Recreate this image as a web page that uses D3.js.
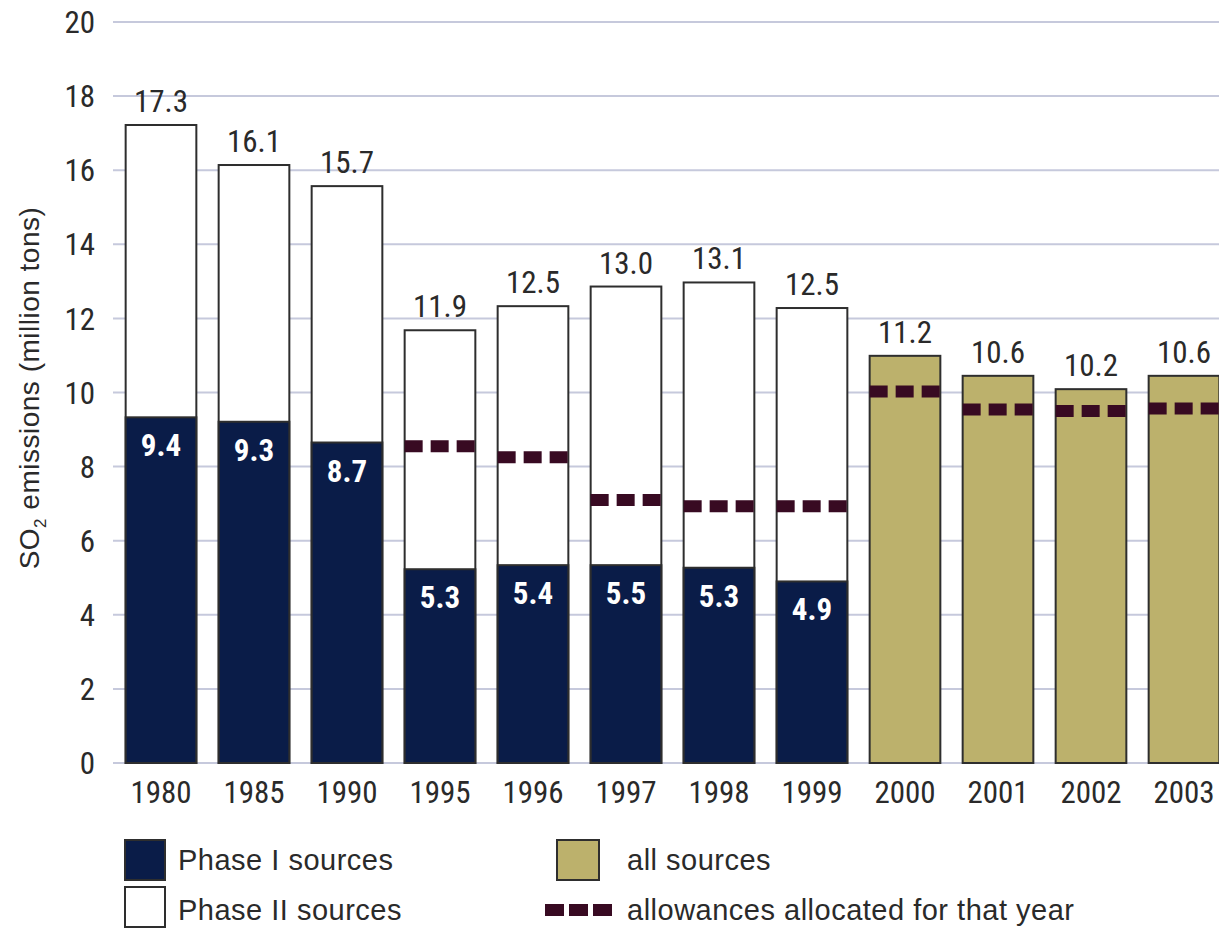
<!DOCTYPE html>
<html>
<head>
<meta charset="utf-8">
<script src="https://cdn.jsdelivr.net/npm/d3@7"></script>
<style>
  html, body { margin: 0; padding: 0; background: #fff; }
  svg { display: block; }
  .narrow { font-family: "Liberation Sans Narrow", "Arial Narrow", "Roboto Condensed", sans-serif; }
  .wide { font-family: "Liberation Sans", Arial, sans-serif; }
</style>
</head>
<body>
<svg id="chart" width="1219" height="930"></svg>
<script>
// ---- data ----
const years = ["1980","1985","1990","1995","1996","1997","1998","1999","2000","2001","2002","2003"];
// total emissions label (as printed) and bar height
const totalLabels = ["17.3","16.1","15.7","11.9","12.5","13.0","13.1","12.5","11.2","10.6","10.2","10.6"];
const totalValues = [17.22, 16.14, 15.57, 11.68, 12.33, 12.86, 12.97, 12.28, 10.99, 10.45, 10.09, 10.45];
// Phase I sources (first 8 years)
const phase1Labels = ["9.4","9.3","8.7","5.3","5.4","5.5","5.3","4.9"];
const phase1Values = [9.33, 9.21, 8.65, 5.23, 5.34, 5.34, 5.27, 4.9];
// allowances allocated (from 1995)
const allowYears = ["1995","1996","1997","1998","1999","2000","2001","2002","2003"];
const allowValues = [8.55, 8.25, 7.1, 6.93, 6.93, 10.03, 9.54, 9.5, 9.57];
const yTicks = [0, 2, 4, 6, 8, 10, 12, 14, 16, 18, 20];
const allSourcesFrom = "2000";

const legendItems = [
  {label: "Phase I sources", type: "phase1"},
  {label: "Phase II sources", type: "phase2"},
  {label: "all sources", type: "all"},
  {label: "allowances allocated for that year", type: "allow"}
];

// ---- styles ----
const NAVY = "#0a1c48";
const GOLD = "#bcb16c";
const DASH = "#380a22";
const GRID = "#c6c9dc";
const STROKE = "#2e2e2e";

const svg = d3.select("#chart");

const x = d3.scaleBand().domain(years).range([114.5, 1230.5]).paddingInner(0.24).paddingOuter(0.12);
const y = d3.scaleLinear().domain([0, 20]).range([763, 22]);

// gridlines
svg.append("g").selectAll("line").data(yTicks).join("line")
  .attr("x1", 113).attr("x2", 1219)
  .attr("y1", d => y(d)).attr("y2", d => y(d))
  .attr("stroke", GRID).attr("stroke-width", 2);

// y tick labels
svg.append("g").selectAll("text").data(yTicks).join("text")
  .attr("class", "narrow")
  .attr("x", 95).attr("y", d => y(d))
  .attr("dy", "0.36em")
  .attr("text-anchor", "end")
  .attr("font-size", 31).attr("fill", "#2a2a2a")
  .text(d => d);

// y title
const yt = svg.append("text")
  .attr("class", "wide")
  .attr("transform", "translate(39,388) rotate(-90)")
  .attr("text-anchor", "middle")
  .attr("font-size", 28).attr("letter-spacing", 0.5).attr("fill", "#2a2a2a");
yt.append("tspan").text("SO");
yt.append("tspan").attr("font-size", 17).attr("dy", 7).text("2");
yt.append("tspan").attr("dy", -7).text(" emissions (million tons)");

const isAll = d => +d >= +allSourcesFrom;

// bars (total)
const bars = svg.append("g");
bars.selectAll("rect.total").data(years).join("rect")
  .attr("class", "total")
  .attr("x", d => x(d)).attr("width", x.bandwidth())
  .attr("y", (d, i) => y(totalValues[i]))
  .attr("height", (d, i) => y(0) - y(totalValues[i]))
  .attr("fill", d => isAll(d) ? GOLD : "#fff")
  .attr("stroke", STROKE).attr("stroke-width", 2);

// phase I segments
const p1Years = years.slice(0, phase1Values.length);
bars.selectAll("rect.p1").data(p1Years).join("rect")
  .attr("class", "p1")
  .attr("x", d => x(d)).attr("width", x.bandwidth())
  .attr("y", (d, i) => y(phase1Values[i]))
  .attr("height", (d, i) => y(0) - y(phase1Values[i]))
  .attr("fill", NAVY)
  .attr("stroke", STROKE).attr("stroke-width", 2);

// allowance dashes
svg.append("g").selectAll("line").data(allowYears).join("line")
  .attr("x1", d => x(d)).attr("x2", d => x(d) + x.bandwidth())
  .attr("y1", (d, i) => y(allowValues[i])).attr("y2", (d, i) => y(allowValues[i]))
  .attr("stroke", DASH).attr("stroke-width", 12)
  .attr("stroke-dasharray", "18,8");

// total labels
svg.append("g").selectAll("text").data(years).join("text")
  .attr("class", "narrow")
  .attr("x", d => x(d) + x.bandwidth() / 2)
  .attr("y", (d, i) => y(totalValues[i]) - 13)
  .attr("text-anchor", "middle")
  .attr("font-size", 31).attr("fill", "#2a2a2a")
  .text((d, i) => totalLabels[i]);

// phase I labels
svg.append("g").selectAll("text").data(p1Years).join("text")
  .attr("class", "narrow")
  .attr("x", d => x(d) + x.bandwidth() / 2)
  .attr("y", (d, i) => y(phase1Values[i]) + 39)
  .attr("text-anchor", "middle")
  .attr("font-size", 31).attr("font-weight", "bold").attr("fill", "#fff")
  .text((d, i) => phase1Labels[i]);

// x axis labels
svg.append("g").selectAll("text").data(years).join("text")
  .attr("class", "narrow")
  .attr("x", d => x(d) + x.bandwidth() / 2)
  .attr("y", 803)
  .attr("text-anchor", "middle")
  .attr("font-size", 31).attr("fill", "#2a2a2a")
  .text(d => d);

// legend
const legPos = {
  phase1: {sx: 125, sy: 840, tx: 178, ty: 870},
  phase2: {sx: 125, sy: 887, tx: 178, ty: 920},
  all:    {sx: 557, sy: 840, tx: 627, ty: 870},
  allow:  {sx: 545, sy: 904, tx: 627, ty: 920}
};
const leg = svg.append("g");
legendItems.forEach(item => {
  const p = legPos[item.type];
  if (item.type === "allow") {
    leg.append("line")
      .attr("x1", p.sx).attr("x2", p.sx + 67)
      .attr("y1", p.sy + 6).attr("y2", p.sy + 6)
      .attr("stroke", DASH).attr("stroke-width", 12)
      .attr("stroke-dasharray", "19,5");
  } else {
    const w = item.type === "all" ? 42 : 40;
    leg.append("rect")
      .attr("x", p.sx).attr("y", p.sy).attr("width", w).attr("height", 40)
      .attr("fill", item.type === "phase1" ? NAVY : item.type === "all" ? GOLD : "#fff")
      .attr("stroke", STROKE).attr("stroke-width", 2);
  }
  leg.append("text")
    .attr("class", "wide")
    .attr("x", p.tx).attr("y", p.ty)
    .attr("font-size", 29).attr("letter-spacing", 0.5).attr("fill", "#2a2a2a")
    .text(item.label);
});
</script>
</body>
</html>
